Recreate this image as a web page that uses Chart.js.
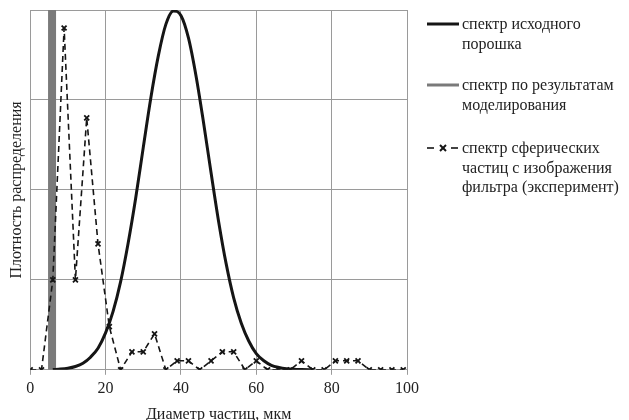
<!DOCTYPE html>
<html>
<head>
<meta charset="utf-8">
<script src="https://cdn.jsdelivr.net/npm/chart.js@4.4.1/dist/chart.umd.min.js"></script>
<style>
  body { margin: 0; background: #fff; }
  #wrap { position: relative; width: 629px; height: 420px; }
  #legend { position: absolute; left: 426px; top: 0; font-family: 'Liberation Serif', 'Times New Roman', serif; font-size: 16px; line-height: 19.5px; color: #222; }
  .item { position: absolute; left: 0; width: 203px; }
  .item svg { position: absolute; left: 0; top: 4px; }
  .item span { position: absolute; left: 36px; top: 0; white-space: pre; }
</style>
</head>
<body>
<div id="wrap">
  <canvas id="chart" width="629" height="420"></canvas>
  <div id="legend"></div>
</div>
<script>
// Диаметр частиц, мкм -- spectrum of the original powder
const powderX = [6, 8, 10, 12, 14, 16, 18, 20, 22, 24, 26, 28, 30, 32, 34, 36, 38, 40, 42, 44, 46, 48, 50, 52, 54, 56, 58, 60, 62, 64, 66, 68, 70, 72, 75];
const powderY = [0.003, 0.008, 0.018, 0.037, 0.073, 0.14, 0.24, 0.41, 0.65, 0.98, 1.41, 1.91, 2.47, 3.02, 3.49, 3.84, 3.99, 3.94, 3.69, 3.27, 2.75, 2.19, 1.65, 1.18, 0.80, 0.52, 0.32, 0.18, 0.10, 0.05, 0.026, 0.012, 0.005, 0.002, 0];

// modelling result (single narrow band)
const modelX = [5.8, 5.8];
const modelY = [0, 4];

// experiment: spherical particles from filter image
const expX = [0, 3, 6, 9, 12, 15, 18, 21, 24, 27, 30, 33, 36, 39, 42, 45, 48, 51, 54, 57, 60, 63, 66, 69, 72, 75, 78, 81, 84, 87, 90, 93, 96, 99];
const expY = [0, 0, 1, 3.8, 1, 2.8, 1.4, 0.48, 0, 0.2, 0.2, 0.4, 0, 0.1, 0.1, 0, 0.1, 0.2, 0.2, 0, 0.1, 0, 0, 0, 0.1, 0, 0, 0.1, 0.1, 0.1, 0, 0, 0, 0];

const xTicks = [0, 20, 40, 60, 80, 100];
const legendLabels = [
    'спектр исходного\nпорошка',
    'спектр по результатам\nмоделирования',
    'спектр сферических\nчастиц с изображения\nфильтра (эксперимент)'
];

const serif = "'Liberation Serif', 'Times New Roman', serif";
const toPoints = (xs, ys) => xs.map((x, i) => ({ x: x, y: ys[i] }));

const ctx = document.getElementById('chart').getContext('2d');
const chart = new Chart(ctx, {
    type: 'line',
    data: {
        datasets: [{
            label: legendLabels[0],
            data: toPoints(powderX, powderY),
            borderColor: '#151515',
            borderWidth: 3,
            pointRadius: 0,
            cubicInterpolationMode: 'monotone',
            order: 1
        }, {
            label: legendLabels[1],
            data: toPoints(modelX, modelY),
            borderColor: '#7a7a7a',
            borderWidth: 8,
            pointRadius: 0,
            order: 2
        }, {
            label: legendLabels[2],
            data: toPoints(expX, expY),
            borderColor: '#151515',
            borderWidth: 1.6,
            borderDash: [6, 4],
            pointStyle: 'crossRot',
            pointRadius: 3.5,
            pointBorderWidth: 1.8,
            pointBorderColor: '#151515',
            order: 0
        }]
    },
    options: {
        responsive: false,
        animation: false,
        layout: { padding: { left: 3, right: 222, top: 10, bottom: -3 } },
        plugins: {
            legend: { display: false },
            tooltip: { enabled: false }
        },
        scales: {
            x: {
                type: 'linear',
                min: 0,
                max: 100,
                afterBuildTicks: axis => { axis.ticks = xTicks.map(v => ({ value: v })); },
                ticks: { font: { family: serif, size: 16 }, color: '#222', padding: 4 },
                grid: { color: '#9a9a9a', lineWidth: 1, tickLength: 5 },
                border: { color: '#9a9a9a' },
                title: { display: true, text: 'Диаметр частиц, мкм', font: { family: serif, size: 16, lineHeight: 1 }, color: '#222', padding: { top: 5, bottom: 0 } }
            },
            y: {
                min: 0,
                max: 4,
                ticks: { display: false, stepSize: 1 },
                grid: { color: '#9a9a9a', lineWidth: 1, drawTicks: false },
                border: { color: '#9a9a9a' },
                title: { display: true, text: 'Плотность распределения', font: { family: serif, size: 16 }, color: '#222', padding: { top: 4, bottom: 4 } }
            }
        }
    }
});

// HTML legend on the right, built from the datasets
const legendTops = [14, 75, 138];
const legendEl = document.getElementById('legend');
chart.data.datasets.forEach((ds, i) => {
    const item = document.createElement('div');
    item.className = 'item';
    item.style.top = legendTops[i] + 'px';
    let sample;
    if (ds.borderDash) {
        sample = '<svg width="34" height="12"><line x1="1" y1="6" x2="8" y2="6" stroke="' + ds.borderColor + '" stroke-width="1.6"/>' +
                 '<line x1="14" y1="3" x2="20" y2="9" stroke="#151515" stroke-width="2"/><line x1="20" y1="3" x2="14" y2="9" stroke="#151515" stroke-width="2"/>' +
                 '<line x1="25" y1="6" x2="32" y2="6" stroke="' + ds.borderColor + '" stroke-width="1.6"/></svg>';
    } else {
        sample = '<svg width="34" height="12"><line x1="1" y1="6" x2="33" y2="6" stroke="' + ds.borderColor + '" stroke-width="3"/></svg>';
    }
    item.innerHTML = sample + '<span></span>';
    item.querySelector('span').textContent = ds.label;
    legendEl.appendChild(item);
});
</script>
</body>
</html>
